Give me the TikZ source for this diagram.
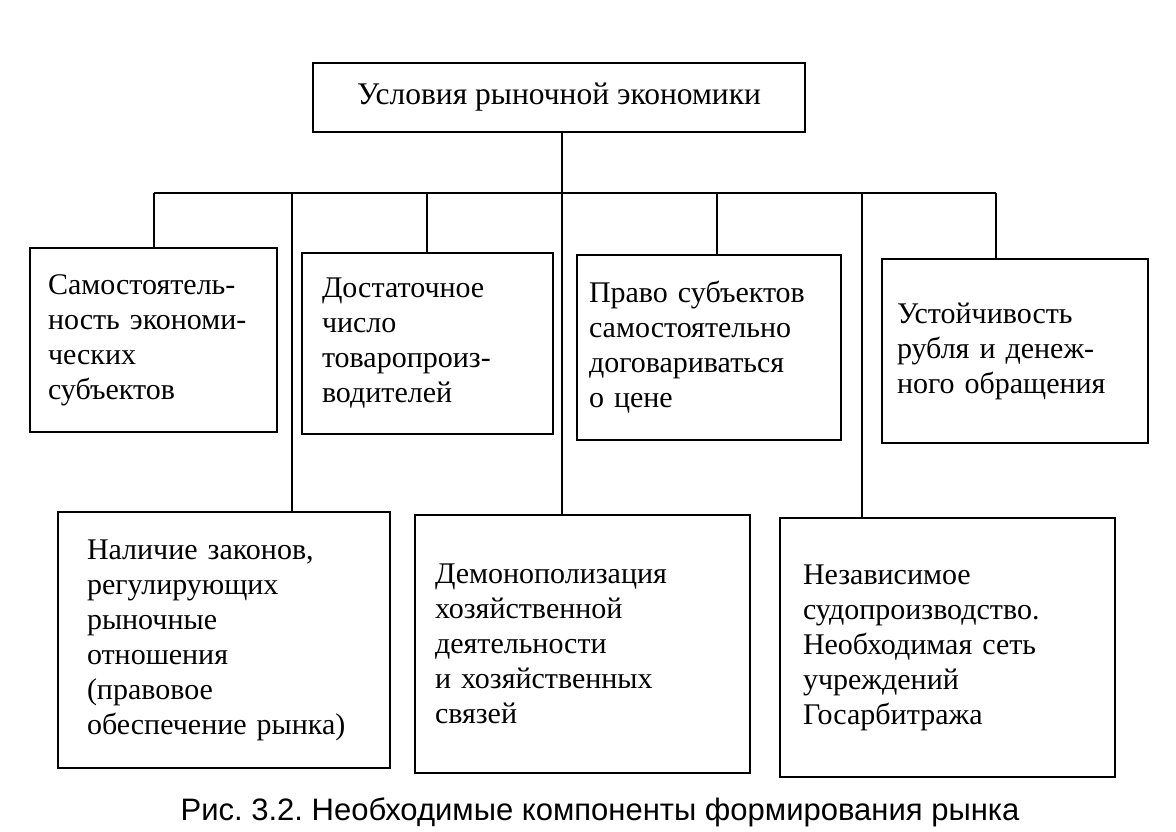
\documentclass[tikz,border=0pt]{standalone}
\usepackage{fontspec}
\setmainfont{Liberation Serif}
\newfontfamily\capfont{Liberation Sans}
\frenchspacing
\begin{document}
\begin{tikzpicture}[x=0.5pt,y=-0.5pt,
  box/.style={draw,line width=1.2pt,align=left,inner sep=0pt,
    font=\fontsize{15pt}{17.5pt}\selectfont},
  conn/.style={line width=1.1pt}]
\useasboundingbox (0,0) rectangle (1176,831);
% top
\node[box,align=center,minimum width=246pt,minimum height=34.5pt,
  font=\fontsize{15.75pt}{18pt}\selectfont] (top) at (559,97.5)
  {\raisebox{-3pt}{Условия рыночной экономики}};
% upper row
\node[box,minimum width=123.5pt,minimum height=92pt,text width=105.5pt] (b1) at (153.5,340)
  {Самостоятель-\\ность экономи-\\ческих\\субъектов};
\node[box,minimum width=125.5pt,minimum height=90.5pt,text width=105.5pt] (b2) at (427.5,343.5)
  {Достаточное\\число\\товаропроиз-\\водителей};
\node[box,minimum width=132pt,minimum height=92.5pt,text width=120pt] (b3) at (709,347.5)
  {Право субъектов\\самостоятельно\\договариваться\\о цене};
\node[box,minimum width=133pt,minimum height=92pt,text width=118pt] (b4) at (1015,351)
  {Устойчивость\\рубля и денеж-\\ного обращения};
% lower row
\node[box,minimum width=166pt,minimum height=128pt,text width=137pt] (c1) at (224,640)
  {Наличие законов,\\регулирующих\\рыночные\\отношения\\(правовое\\обеспечение рынка)};
\node[box,minimum width=167.5pt,minimum height=129pt,text width=147.5pt] (c2) at (582.5,644)
  {Демонополизация\\хозяйственной\\деятельности\\и хозяйственных\\связей};
\node[box,minimum width=167.5pt,minimum height=129.5pt,text width=144.5pt] (c3) at (947.5,647.5)
  {Независимое\\судопроизводство.\\Необходимая сеть\\учреждений\\Госарбитража};
% bus
\coordinate (j1) at (154,193);
\coordinate (j2) at (292,193);
\coordinate (j3) at (427,193);
\coordinate (j4) at (562,193);
\coordinate (j5) at (717,193);
\coordinate (j6) at (862,193);
\coordinate (j7) at (996,193);
\draw[conn] (j4 |- top.south) -- (j4);
\draw[conn] (j1) -- (j7);
\draw[conn] (j1) -- (j1 |- b1.north);
\draw[conn] (j3) -- (j3 |- b2.north);
\draw[conn] (j5) -- (j5 |- b3.north);
\draw[conn] (j7) -- (j7 |- b4.north);
\draw[conn] (j2) -- (j2 |- c1.north);
\draw[conn] (j4) -- (j4 |- c2.north);
\draw[conn] (j6) -- (j6 |- c3.north);
% caption
\node[font=\capfont\fontsize{15.5pt}{18pt}\selectfont] (cap) at (600,812) {Рис. 3.2. Необходимые компоненты формирования рынка};
\end{tikzpicture}
\end{document}
